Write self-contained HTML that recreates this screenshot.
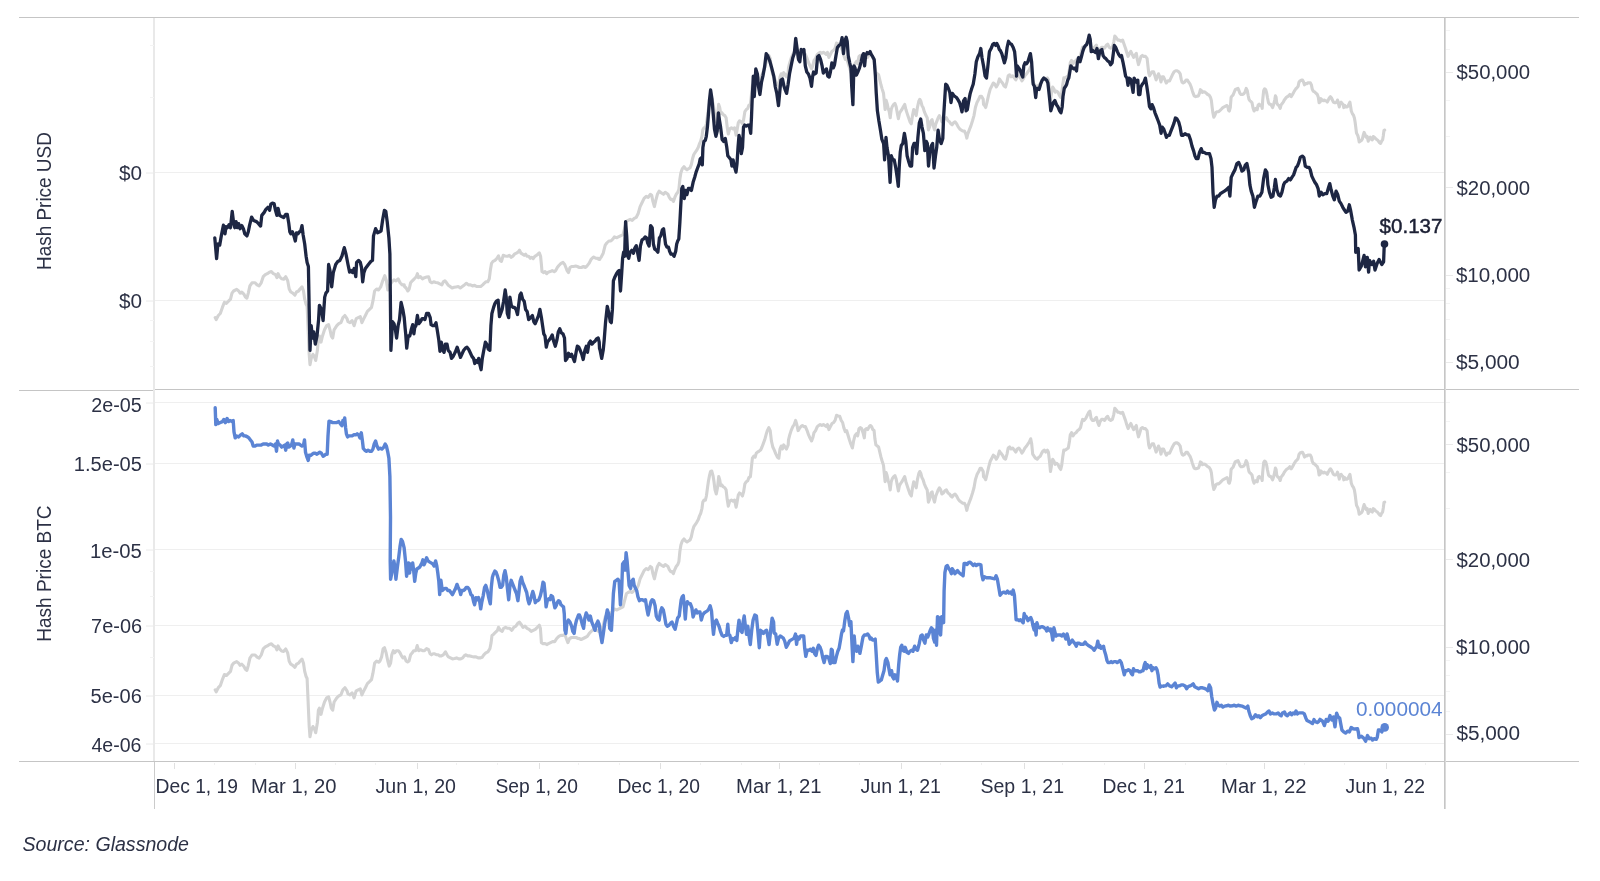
<!DOCTYPE html>
<html><head><meta charset="utf-8"><title>Hash Price USD and BTC</title>
<style>html,body{margin:0;padding:0;background:#fff;width:1600px;height:881px;overflow:hidden}svg{display:block;will-change:transform}</style>
</head><body>
<svg width="1600" height="881" viewBox="0 0 1600 881" font-family="Liberation Sans, Arial, sans-serif"><line x1="155" y1="172.5" x2="1445" y2="172.5" stroke="#efefef" stroke-width="1"/>
<line x1="155" y1="300.5" x2="1445" y2="300.5" stroke="#efefef" stroke-width="1"/>
<line x1="155" y1="402.5" x2="1445" y2="402.5" stroke="#efefef" stroke-width="1"/>
<line x1="155" y1="463.5" x2="1445" y2="463.5" stroke="#efefef" stroke-width="1"/>
<line x1="155" y1="549.5" x2="1445" y2="549.5" stroke="#efefef" stroke-width="1"/>
<line x1="155" y1="625.5" x2="1445" y2="625.5" stroke="#efefef" stroke-width="1"/>
<line x1="155" y1="695.5" x2="1445" y2="695.5" stroke="#efefef" stroke-width="1"/>
<line x1="155" y1="743.5" x2="1445" y2="743.5" stroke="#efefef" stroke-width="1"/>
<line x1="19" y1="17.5" x2="1579" y2="17.5" stroke="#c5c5c5" stroke-width="1"/>
<line x1="19" y1="390.5" x2="153" y2="390.5" stroke="#c5c5c5" stroke-width="1"/>
<line x1="153" y1="389.5" x2="1579" y2="389.5" stroke="#c5c5c5" stroke-width="1"/>
<line x1="19" y1="761.5" x2="1579" y2="761.5" stroke="#c5c5c5" stroke-width="1"/>
<line x1="154" y1="18" x2="154" y2="761" stroke="#e9e9e9" stroke-width="2"/>
<line x1="154.5" y1="762" x2="154.5" y2="809" stroke="#cbcbcb" stroke-width="1"/>
<line x1="1444.5" y1="18" x2="1444.5" y2="809" stroke="#c6c6c6" stroke-width="1"/>
<line x1="1445.5" y1="18" x2="1445.5" y2="809" stroke="#dadada" stroke-width="1"/>
<line x1="174.5" y1="763" x2="174.5" y2="769" stroke="#e0e0e0" stroke-width="1"/>
<line x1="214.5" y1="763" x2="214.5" y2="765" stroke="#f0f0f0" stroke-width="1"/>
<line x1="255.5" y1="763" x2="255.5" y2="765" stroke="#f0f0f0" stroke-width="1"/>
<line x1="295.5" y1="763" x2="295.5" y2="769" stroke="#e0e0e0" stroke-width="1"/>
<line x1="335.5" y1="763" x2="335.5" y2="765" stroke="#f0f0f0" stroke-width="1"/>
<line x1="375.5" y1="763" x2="375.5" y2="765" stroke="#f0f0f0" stroke-width="1"/>
<line x1="417.5" y1="763" x2="417.5" y2="769" stroke="#e0e0e0" stroke-width="1"/>
<line x1="456.5" y1="763" x2="456.5" y2="765" stroke="#f0f0f0" stroke-width="1"/>
<line x1="497.5" y1="763" x2="497.5" y2="765" stroke="#f0f0f0" stroke-width="1"/>
<line x1="539.5" y1="763" x2="539.5" y2="769" stroke="#e0e0e0" stroke-width="1"/>
<line x1="578.5" y1="763" x2="578.5" y2="765" stroke="#f0f0f0" stroke-width="1"/>
<line x1="619.5" y1="763" x2="619.5" y2="765" stroke="#f0f0f0" stroke-width="1"/>
<line x1="660.5" y1="763" x2="660.5" y2="769" stroke="#e0e0e0" stroke-width="1"/>
<line x1="700.5" y1="763" x2="700.5" y2="765" stroke="#f0f0f0" stroke-width="1"/>
<line x1="741.5" y1="763" x2="741.5" y2="765" stroke="#f0f0f0" stroke-width="1"/>
<line x1="779.5" y1="763" x2="779.5" y2="769" stroke="#e0e0e0" stroke-width="1"/>
<line x1="819.5" y1="763" x2="819.5" y2="765" stroke="#f0f0f0" stroke-width="1"/>
<line x1="859.5" y1="763" x2="859.5" y2="765" stroke="#f0f0f0" stroke-width="1"/>
<line x1="901.5" y1="763" x2="901.5" y2="769" stroke="#e0e0e0" stroke-width="1"/>
<line x1="940.5" y1="763" x2="940.5" y2="765" stroke="#f0f0f0" stroke-width="1"/>
<line x1="981.5" y1="763" x2="981.5" y2="765" stroke="#f0f0f0" stroke-width="1"/>
<line x1="1024.5" y1="763" x2="1024.5" y2="769" stroke="#e0e0e0" stroke-width="1"/>
<line x1="1062.5" y1="763" x2="1062.5" y2="765" stroke="#f0f0f0" stroke-width="1"/>
<line x1="1104.5" y1="763" x2="1104.5" y2="765" stroke="#f0f0f0" stroke-width="1"/>
<line x1="1144.5" y1="763" x2="1144.5" y2="769" stroke="#e0e0e0" stroke-width="1"/>
<line x1="1185.5" y1="763" x2="1185.5" y2="765" stroke="#f0f0f0" stroke-width="1"/>
<line x1="1226.5" y1="763" x2="1226.5" y2="765" stroke="#f0f0f0" stroke-width="1"/>
<line x1="1264.5" y1="763" x2="1264.5" y2="769" stroke="#e0e0e0" stroke-width="1"/>
<line x1="1304.5" y1="763" x2="1304.5" y2="765" stroke="#f0f0f0" stroke-width="1"/>
<line x1="1344.5" y1="763" x2="1344.5" y2="765" stroke="#f0f0f0" stroke-width="1"/>
<line x1="1386.5" y1="763" x2="1386.5" y2="769" stroke="#e0e0e0" stroke-width="1"/>
<line x1="1425.5" y1="763" x2="1425.5" y2="765" stroke="#f0f0f0" stroke-width="1"/>
<line x1="146" y1="173.0" x2="154" y2="173.0" stroke="#eaeaea" stroke-width="1"/>
<line x1="146" y1="301.0" x2="154" y2="301.0" stroke="#eaeaea" stroke-width="1"/>
<line x1="146" y1="403.0" x2="154" y2="403.0" stroke="#eaeaea" stroke-width="1"/>
<line x1="146" y1="464.0" x2="154" y2="464.0" stroke="#eaeaea" stroke-width="1"/>
<line x1="146" y1="550.0" x2="154" y2="550.0" stroke="#eaeaea" stroke-width="1"/>
<line x1="146" y1="626.0" x2="154" y2="626.0" stroke="#eaeaea" stroke-width="1"/>
<line x1="146" y1="696.0" x2="154" y2="696.0" stroke="#eaeaea" stroke-width="1"/>
<line x1="146" y1="744.0" x2="154" y2="744.0" stroke="#eaeaea" stroke-width="1"/>
<line x1="150" y1="45.5" x2="154" y2="45.5" stroke="#f4f4f4" stroke-width="1"/>
<line x1="150" y1="97.5" x2="154" y2="97.5" stroke="#f4f4f4" stroke-width="1"/>
<line x1="150" y1="320.5" x2="154" y2="320.5" stroke="#f4f4f4" stroke-width="1"/>
<line x1="150" y1="341.5" x2="154" y2="341.5" stroke="#f4f4f4" stroke-width="1"/>
<line x1="150" y1="366.5" x2="154" y2="366.5" stroke="#f4f4f4" stroke-width="1"/>
<line x1="150" y1="571.5" x2="154" y2="571.5" stroke="#f4f4f4" stroke-width="1"/>
<line x1="150" y1="596.5" x2="154" y2="596.5" stroke="#f4f4f4" stroke-width="1"/>
<line x1="150" y1="657.5" x2="154" y2="657.5" stroke="#f4f4f4" stroke-width="1"/>
<line x1="1446" y1="362.5" x2="1453" y2="362.5" stroke="#eaeaea" stroke-width="1"/>
<line x1="1446" y1="275.5" x2="1453" y2="275.5" stroke="#eaeaea" stroke-width="1"/>
<line x1="1446" y1="187.5" x2="1453" y2="187.5" stroke="#eaeaea" stroke-width="1"/>
<line x1="1446" y1="72.5" x2="1453" y2="72.5" stroke="#eaeaea" stroke-width="1"/>
<line x1="1446" y1="339.5" x2="1450" y2="339.5" stroke="#f4f4f4" stroke-width="1"/>
<line x1="1446" y1="319.5" x2="1450" y2="319.5" stroke="#f4f4f4" stroke-width="1"/>
<line x1="1446" y1="303.5" x2="1450" y2="303.5" stroke="#f4f4f4" stroke-width="1"/>
<line x1="1446" y1="288.5" x2="1450" y2="288.5" stroke="#f4f4f4" stroke-width="1"/>
<line x1="1446" y1="136.5" x2="1450" y2="136.5" stroke="#f4f4f4" stroke-width="1"/>
<line x1="1446" y1="100.5" x2="1450" y2="100.5" stroke="#f4f4f4" stroke-width="1"/>
<line x1="1446" y1="49.5" x2="1450" y2="49.5" stroke="#f4f4f4" stroke-width="1"/>
<line x1="1446" y1="30.5" x2="1450" y2="30.5" stroke="#f4f4f4" stroke-width="1"/>
<line x1="1446" y1="734.5" x2="1453" y2="734.5" stroke="#eaeaea" stroke-width="1"/>
<line x1="1446" y1="647.5" x2="1453" y2="647.5" stroke="#eaeaea" stroke-width="1"/>
<line x1="1446" y1="559.5" x2="1453" y2="559.5" stroke="#eaeaea" stroke-width="1"/>
<line x1="1446" y1="444.5" x2="1453" y2="444.5" stroke="#eaeaea" stroke-width="1"/>
<line x1="1446" y1="711.5" x2="1450" y2="711.5" stroke="#f4f4f4" stroke-width="1"/>
<line x1="1446" y1="691.5" x2="1450" y2="691.5" stroke="#f4f4f4" stroke-width="1"/>
<line x1="1446" y1="675.5" x2="1450" y2="675.5" stroke="#f4f4f4" stroke-width="1"/>
<line x1="1446" y1="660.5" x2="1450" y2="660.5" stroke="#f4f4f4" stroke-width="1"/>
<line x1="1446" y1="508.5" x2="1450" y2="508.5" stroke="#f4f4f4" stroke-width="1"/>
<line x1="1446" y1="472.5" x2="1450" y2="472.5" stroke="#f4f4f4" stroke-width="1"/>
<line x1="1446" y1="421.5" x2="1450" y2="421.5" stroke="#f4f4f4" stroke-width="1"/>
<line x1="1446" y1="402.5" x2="1450" y2="402.5" stroke="#f4f4f4" stroke-width="1"/>
<polyline points="215.2,317.6 216.2,319.6 218.3,315.5 220.3,313.5 222.4,307.4 224.4,302.3 226.5,303.3 228.5,301.2 230.5,299.2 232,293.1 233.6,291 236.7,289.4 238.7,291 240.1,293.1 241.8,292 243.8,294.1 245.4,297.1 246.9,298.2 248.3,293.1 249.9,285.9 252,282.8 255.1,282.8 257.1,284.9 259.1,285.9 261.2,282.8 263.2,276.7 265.3,274.7 267.3,273.7 269.4,272.2 271.4,271.6 273.4,273.7 275.5,274.7 276.9,277.7 278.1,273.7 279.6,276.7 281.6,278.8 283.7,279.2 285.7,276.7 287.7,280.8 289.2,289 290.8,292 292.8,293.1 294.9,295.1 296.5,292 298.6,291 300,289 302,286.9 303.5,291 304.7,299.2 306.1,304.3 307.1,306.3 309.2,354.3 310,364.6 311.2,358.4 312.9,354.3 314.3,356.4 315.7,360.5 317.4,350.3 318.4,338 319.4,336 321,342.1 322.5,336 324.5,329.8 326.6,325.7 328.6,324.7 330,329.8 331.3,336 332.7,338 334.1,329.8 336.8,325.7 338.8,323.7 340.9,322.7 342.9,317.6 344.9,315.5 347,318.6 348,321.7 350,322.7 352.1,320.6 354.1,325.7 356.2,318.6 358.2,317.6 360.3,316.6 361.9,322.7 363.3,319.6 365.4,315.5 367.4,311.4 369.5,309.4 371.5,307.4 372.9,301.2 374.6,291 376.6,289 378.6,290 380.7,286.9 382.7,280.8 384.8,275.7 386.4,280.8 387.8,290 389.9,284.9 391.9,281.8 394,279.8 396,280.8 398.1,278.8 400.1,282.8 402.1,284.9 404.2,284.9 404.5,286.5 406.1,288 407.8,291 409.2,289 410.6,282.8 412.3,280.8 414.3,278.8 416.3,276.7 417.4,273.7 418.4,277.7 420.4,276.7 422.5,278.8 424.5,277.7 426.6,277.1 428.6,276.7 430.2,281.8 431.7,282.8 433.7,281.8 435.8,282.4 437.8,282.8 439.8,283.9 441.9,284.9 443.3,281.8 444.9,280.8 446.6,282.8 448,284.9 450.1,286.5 452.1,288 454.1,287.3 456.2,286.9 458.2,286.5 460.3,288 462.3,286.5 464.4,284.9 466.4,283.3 468.4,284.9 470.5,284.9 472.5,285.9 474.6,285.3 476.6,286.5 478.7,286.5 480.7,286.5 482.7,284.9 484.2,283.3 485.8,281.8 487.8,281.8 489.3,278.8 490.3,270.6 491.5,263.4 493,261.4 495,260.4 497,258.3 498.5,255.9 500.1,260.4 501.5,261.4 503.2,255.3 505.2,255.9 507.3,256.3 509.3,255.3 511.3,257.3 512.8,256.3 514.4,254.2 516.4,253.2 518.1,252.2 519.5,250.2 520.9,253.2 522.6,254.2 524.2,255.3 525.6,254.2 527.1,256.3 528.7,256.3 530.3,258.3 531.8,257.3 533.2,258.7 534.8,256.3 536.5,255.3 537.9,254.2 539.3,252.8 540.6,256.3 541.4,264.5 542,271.6 543.4,272.6 545,271.6 546.7,273.7 548.1,272.2 550.2,271.6 552.2,270.6 554.2,271.6 555.7,270.6 557.3,267.5 558.9,265.5 561,263.4 563,262.4 564.7,264.5 565.9,267.5 567.1,270.6 568.5,272.6 570,267.5 571.6,266.5 573.6,266.5 575.7,266.1 577.3,266.5 579.4,267.5 581.4,267.5 583.5,266.5 585.5,267.5 586.9,266.1 589,263.4 591.3,259.1 593.4,257.1 594.1,257.3 596.1,258.3 598.2,258.3 599.8,259.4 597,258.3 599.1,259.4 601.1,257.3 603.2,253.2 605.2,245.1 606.8,243 608.9,241 610.9,241 613,238.9 614.4,236.9 616.9,237.7 618.9,236.7 621,235.6 623,234.6 625.1,226.5 626.5,221.3 628.1,220.3 630.2,219.3 632.2,220.3 634.2,218.3 636.3,217.3 638.3,213.2 640.1,206.6 642.1,202.5 644.1,198.4 646.2,196.3 648.2,197.4 650.3,194.3 651.7,195.3 652.9,201.4 654.4,206.6 655.8,200.4 657.4,194.3 659.1,191.2 660.5,192.3 661.9,193.3 663.5,194.3 665.2,192.3 666.6,193.3 668,194.3 669.3,197.4 670.7,199.4 672.1,199.4 673.4,201.4 674.8,197.4 676.2,194.3 677.8,192.3 678.9,189.2 679.9,179 680.9,172.8 682.3,168.8 684,166.7 685.6,168.8 687,169.8 688.5,168.8 690.1,167.7 691.3,164.7 692.6,158.5 693.8,154.5 695.2,152.4 696.6,150.4 698.3,147.3 699.3,144.2 700.7,141.2 702,136.1 702.8,129.9 704,127.9 705.4,127.9 706.4,123.8 707.5,115.6 708.5,108.5 709.5,103.4 710.5,99.3 711.8,98.9 713,103.4 714,109.5 715,117.7 716.3,121.8 717.5,115.6 718.7,104.4 719.7,107.5 720.7,113.6 721.8,112.6 723.2,114.6 724.8,115.6 726.1,117.7 727.3,127.9 728.3,134 729.7,128.9 731.4,127.9 733,128.9 734.6,127.9 736.1,135.1 737.1,129.9 738.3,122.8 739.5,120.8 741.2,121.8 742.4,123.8 743.6,119.7 744.9,111.6 746.3,109.5 747.7,108.5 748.9,105.4 750.4,104.4 751.4,95.2 752.4,86 753.8,84 755.1,85 756.3,80.9 757.5,79.9 759.2,78.9 760.6,77.9 762,74.8 763.2,71.7 764.7,67.6 766.1,62.5 767.3,58.4 768.8,55.4 770.2,58.4 771.4,68.7 772.8,74.8 774.3,77.9 775.9,81.9 777.5,85 778.8,86 780,76.8 781.2,73.8 782.4,76.8 783.7,72.7 785.1,74.8 786.5,76.8 788.2,72.7 788.5,67.6 789.5,63.6 791.1,58.4 792.8,54.4 794.2,52.3 795.6,48.2 796.8,52.3 798.1,58.4 799.3,56.4 800.9,54.4 802.4,53.3 803.8,54.4 805.4,54.4 807.1,58.4 808.5,62.5 809.9,65.6 811.6,68.7 812.8,65.6 814,60.5 815.6,58.4 817.3,54.4 818.7,53.3 820.1,52.3 821.8,53.3 823.4,52.3 824.8,53.3 826.3,54.4 827.5,52.3 828.9,57.4 830.4,54.4 832,51.3 833.6,50.3 835.1,48.2 836.5,43.1 838.1,43.7 839.7,44.1 841.2,48.2 842.6,50.3 843.8,55.4 845.3,59.5 846.7,58.4 847.9,62.5 849.4,67.6 850.8,71.7 852.4,75.8 853.6,68.7 854.9,63.6 856.5,61.5 857.7,63.6 859,56.4 860.2,55.4 861.6,56.4 863,60.5 864.3,65.6 865.1,57.4 866.3,56.4 867.7,57.4 869.2,54.4 870.4,53.3 871.6,54.4 872.8,57.4 874.1,58.4 874.9,66.6 875.9,72.7 877.3,73.8 878.6,74.8 879.8,79.9 881,85 882.2,89.1 883.5,93.2 884.3,101.3 885.1,109.5 886.1,100.3 887.1,103.4 888.2,108.5 889.2,111.6 890.2,117.7 891.2,109.5 892.3,106.5 893.7,104.4 894.9,103.4 896.1,106.5 897.4,113.6 898.4,118.7 899.4,113.6 900.4,111.6 901.9,109.5 903.5,106.5 904.7,104.4 905.9,109.5 907.2,113.6 908.6,117.7 910,121.8 911.3,123.8 912.5,115.6 913.7,109.5 914.9,111.6 916.2,115.6 917.4,107.5 918.8,101.3 919.8,99.3 920.9,101.3 921.9,105.4 923.1,107.5 924.3,111.6 926,115.6 927.2,117.7 928.4,129.9 929.6,126.9 930.9,120.8 932.1,119.7 933.3,125.9 934.5,129.9 935.8,123.8 937,120.8 938.2,117.7 939.4,115.6 940.7,117.7 941.9,121.8 943.3,120.8 944.8,118.7 946.4,117.7 948,120.8 949.5,121.8 950.9,123.8 952.1,124.8 953.5,122.8 955,121.8 956.6,123.8 958.2,126.9 959.7,128.9 961.1,129.9 962.7,131 964.4,131 965.8,134 966.8,138.1 967.8,134 969.3,129.9 970.9,125.9 972.5,120.8 974,115.6 975.4,107.5 977,102.4 978.7,99.3 980.1,96.2 981.5,96.2 983.2,99.3 983.5,104.4 984.5,105.4 985.7,107.5 987.2,101.3 988.6,95.2 990.2,89.1 991.8,86 993.3,83 994.7,84 996.3,87 998,84 999.4,78.9 1000.8,80.9 1002.5,83 1004.1,86 1005.5,87 1007,81.9 1008.2,75.8 1009.6,74.8 1011.1,76.8 1012.7,75.8 1014.3,77.9 1015.8,79.9 1017.2,76.8 1018.8,75.8 1020.4,77.9 1021.9,80.9 1023.3,78.9 1024.9,75.8 1026.6,73.8 1028,71.7 1029.4,69.7 1030.7,66.6 1031.7,71.7 1032.7,81.9 1034.1,84 1035.6,86 1037.2,87 1038.8,85 1040.3,84 1041.7,80.9 1042.9,78.9 1044.4,77.9 1045.8,79.9 1047.4,77.9 1048.4,79.9 1049.5,89.1 1050.5,99.3 1051.5,93.2 1052.7,87 1054,89.1 1055.2,92.2 1056.6,91.1 1058,92.2 1059.3,95.2 1060.7,97.3 1061.7,93.2 1062.7,85 1063.8,77.9 1065.4,77.9 1066.8,76.8 1068.3,75.8 1069.5,68.7 1070.3,62.5 1071.5,60.5 1073,63.6 1074.4,61.5 1076,60.5 1077.7,58.4 1079.1,57.4 1080.5,55.4 1081.7,50.3 1082.6,47.2 1084.2,48.2 1085.8,46.2 1087.3,43.1 1088.7,40.1 1089.9,39 1091.1,46.2 1092.4,48.2 1094,48.2 1095.4,46.2 1096.4,45.2 1097.7,50.3 1098.9,53.3 1100.1,49.3 1101.6,47.2 1103,47.2 1104.6,48.2 1106.3,45.2 1107.7,44.1 1109.1,47.2 1110.7,48.2 1112.4,47.2 1113.8,42.1 1114.8,36 1116.5,38 1117.9,40.1 1119.3,40.1 1121,41.1 1122.6,40.1 1124,44.1 1125.5,48.2 1126.7,52.3 1128.1,56.4 1129.5,53.3 1130.8,51.3 1132.2,54.4 1133.6,57.4 1134.9,55.4 1136.3,53.3 1137.3,59.5 1138.5,64.6 1139.8,60.5 1141,56.4 1142.4,55.4 1143.8,56.4 1145.5,56.4 1147.1,58.4 1147.9,65.6 1148.7,72.7 1149.6,75.8 1150.8,73.8 1152,71.7 1153.6,71.7 1154.9,75.8 1156.1,79.9 1157.3,76.8 1158.5,73.8 1159.8,76.8 1161,81.9 1162.2,76.8 1163.5,76.8 1164.9,79.9 1166.3,83 1167.9,80.9 1169.6,80.9 1171,77.9 1172.4,74.8 1174.1,71.7 1175.7,70.7 1177.1,70.7 1178.6,71.7 1179,72.1 1180.2,73.9 1181.2,79.4 1182.1,82.2 1183.2,82.9 1184.6,82.2 1186,80.1 1187.4,80.1 1188.7,82.2 1190.1,84.2 1191.2,87 1192.2,90.4 1193.1,93.2 1194.2,95.9 1195.6,96.6 1197,96.2 1198.4,95.9 1199.5,93.2 1200.4,89.7 1201.4,90.4 1202.5,92.5 1203.6,91.8 1205,92.1 1206.3,93.2 1207.7,94.5 1209.1,95.2 1210.5,97.3 1211.4,100.7 1212.1,106.9 1212.8,112.4 1213.8,117.2 1214.9,115.2 1216,112.4 1217.3,111.7 1218.7,111.7 1220.1,110.4 1221.5,109 1222.8,107.6 1224.2,106.9 1225.6,106.2 1227,105.5 1227.9,106.9 1228.6,110.4 1229.3,111 1230.3,107.6 1231.1,97.3 1232.1,95.9 1233,95.2 1234.1,92.5 1235.2,89.7 1236.6,89 1238,88.4 1238.9,90.4 1239.9,93.2 1241,94.5 1242.4,94.5 1243.7,93.9 1245.1,91.8 1246.2,88.4 1247.2,90.4 1248.1,95.2 1249,99.4 1249.9,100.7 1250.9,101.4 1252,102.8 1253.1,108.3 1254.1,111 1255,109 1256.1,108.3 1257.2,109.7 1258.2,104.9 1259.1,104.2 1260.2,105.5 1261.3,104.9 1262.2,108.3 1262.7,100 1263.7,90.4 1264.6,88.8 1265.7,89.7 1266.7,93.2 1267.4,97.3 1268.5,102.8 1269.6,104.2 1270.6,104.2 1271.5,105.5 1272.6,107.6 1273.7,104.2 1274.7,100 1275.4,95.9 1276.1,97.3 1276.7,102.8 1277.8,104.9 1278.9,105.5 1280.2,108.3 1281.1,104.9 1282.2,103.5 1283.3,102.1 1284.3,100 1285.3,98.7 1286.4,97.3 1287.5,96.6 1288.6,95.9 1289.8,94.5 1291.2,96.6 1292.1,95.2 1293.2,93.2 1294.3,91.1 1295.7,89 1297.1,87.7 1298.1,86.3 1299,82.2 1300.1,80.8 1301.5,80.1 1302.6,80.1 1303.6,82.2 1304.5,84.9 1305.6,83.5 1306.7,83.8 1307.7,82.9 1309.1,82.9 1310.4,82.9 1311.4,84.9 1312.2,89 1313.2,91.1 1314.6,91.8 1315.9,93.2 1317.3,94.5 1318.3,97.3 1319.1,102.8 1320.1,102.1 1321,98.7 1322.1,100 1323.2,100.7 1324.2,100 1325.1,100.7 1326.2,100.7 1327.3,102.1 1328.3,100 1329.3,98 1330.4,96.6 1331.5,98 1332.4,100 1333.4,102.1 1334.5,102.8 1335.6,102.8 1336.6,102.1 1337.5,100 1338.3,102.8 1339.3,106.9 1340,103.5 1341.1,102.1 1342.1,103.5 1343,104.2 1343.8,107.6 1344.8,105.5 1345.8,106.9 1346.9,106.9 1348,106.2 1348.9,104.2 1349.9,102.1 1350.7,106.9 1351.3,111 1352.4,113.8 1353.5,115.2 1354.4,117.9 1355.1,122 1355.8,127.5 1356.5,133 1357.2,134.4 1357.9,135.8 1358.6,138.5 1359.2,142 1360.3,141.3 1361.3,140.6 1362.3,139.2 1363.1,135.8 1364.1,132.4 1365,134.4 1366.1,137.2 1367.2,136.5 1368.2,141.3 1369.1,138.5 1370.2,137.2 1371.3,139.2 1372.3,139.9 1373.3,136.5 1374.4,137.2 1375.5,138.5 1376.4,139.2 1377.4,139.9 1378.5,141.3 1379.6,142.7 1380.6,143.4 1381.5,141.3 1382.6,139.9 1383.3,135.8 1384,130.3 1384.7,130" fill="none" stroke="#d3d3d3" stroke-width="3.1" stroke-linejoin="round" stroke-linecap="round"/>
<polyline points="214.8,237.9 216.6,258.7 217.9,244 219.7,245.1 221.3,235.9 223.4,225.2 225,233.8 226,226.7 227.5,227.7 229.1,224.6 230.5,227.7 232.2,211.3 233.6,222.6 234.8,227.7 236.1,221.6 237.3,227.7 238.7,223.6 240.1,228.7 241.8,225.6 243.4,228.7 244.8,233.8 246.9,235.9 248.3,231.8 249.5,225.6 251.6,217.1 253.6,220.5 256.5,221.6 258.5,223.6 260.6,226.1 261.8,215.4 264.2,212.4 265.9,209.3 267.9,207.3 269.6,210.3 270.8,204.2 272.4,203.2 274.1,203.6 275.5,210.3 276.9,215.4 278.1,208.3 279.6,215.4 281.6,216.5 283.7,217.5 285.7,214.4 287.3,214.4 288.8,223.6 289.8,231.8 290.8,233.8 292.4,231.8 293.9,235.9 295.3,241 296.5,232.8 298,233.8 299.4,231.8 300.6,231.4 302,225.6 303.1,234.8 304.7,244 306.1,256.3 307.1,262.4 308.4,266.5 309.2,309.4 310,350.3 311.2,325.7 312.5,338 313.7,331.9 315.3,344.1 317,336 318.6,319.6 319.4,305.3 321.4,309.4 323.1,320.6 324.7,297.1 325.9,293.1 327.6,291 328.6,264.5 330,270.6 331.7,286.9 333.3,272.6 335.7,264.5 337.8,261.4 339.8,260.4 341.9,256.3 344.3,247.7 346,254.2 348,264.5 349.6,272.2 351.1,270.6 352.5,272.6 354.1,268.5 355.8,276.7 356.6,262.4 358.6,260.4 360.3,262.4 361.5,267.5 362.7,281.8 363.9,272.6 365.4,268.5 368.4,264.5 370.9,261.4 372.5,260.4 373.5,235.9 375.6,228.7 377.6,232.8 379.7,231.8 381.1,230.8 382.7,219.5 384.4,210.3 385.8,211.3 387.2,221.6 388.9,237.9 389.9,254.2 390.9,350.3 392.5,321.7 394,323.7 395.4,329.8 396.6,338 398.1,325.7 399.5,319.6 401.1,302.3 402.8,309.4 404.2,317.6 405.1,327.8 405.7,333.9 406.7,348.2 408.2,336 409.8,336 411.2,329.8 412.7,324.7 413.9,333.9 414.7,327.8 415.9,325.7 417.4,315.5 418.8,323.7 420.4,321.7 422.1,318.6 423.5,318.6 424.9,319.6 426.6,313.5 428.6,313.5 430.2,317.6 431.1,324.7 432.7,325.7 434.3,325.7 436,322.7 437.2,329.8 438.8,340 440,351.3 441.3,342.1 442.9,350.3 444.1,352.3 445.4,344.1 447,344.1 448.2,350.3 450.1,352.3 451.5,358.4 453.1,356.4 455.2,352.3 457.2,347.2 458.8,352.3 460.5,357.4 462.3,353.3 463.7,350.3 465.4,348.2 467,347.2 468.6,349.2 470.5,353.3 471.9,356.4 473.5,358.4 474.8,363.5 476,360.5 477.6,362.5 478.7,358.4 480.1,365.6 481.1,369.7 482.3,358.4 483.8,350.3 485.4,342.1 486.8,344.1 488.3,349.2 489.9,350.3 490.9,325.7 491.9,313.5 493.6,307.4 495,303.3 496.4,301.2 498.1,300.2 499.5,316.6 500.7,313.5 502.1,309.4 503.6,301.2 505.2,290 506.2,297.1 507.3,313.5 508.7,317.6 509.9,297.1 511.3,305.3 512.8,307.4 514.4,307.4 516,309.4 517.5,314.5 518.5,306.3 519.9,295.1 521.1,293.1 522.6,299.2 524.2,301.2 525.6,309.4 527.1,311.4 528.7,319.6 530.7,317.6 532.4,315.5 533.8,321.7 535.2,323.7 536.9,319.6 538.5,315.5 539.9,309.4 541.4,317.6 542.6,325.7 543.8,333.9 545,336 546.3,347.2 547.5,342.1 549.1,340 550.6,338 552.2,334.9 553.6,341.1 555.3,346.2 556.9,340 558.3,331.9 559.8,328.8 561.4,332.9 563,333.9 564.5,338 565.5,360.5 567.1,358.4 568.5,353.3 570,356.4 571.6,354.3 573.2,358.4 574.5,361.5 576.1,352.3 577.3,346.2 578.8,347.2 580.2,350.3 581.8,354.3 583.2,359.5 584.9,350.3 586.3,346.2 587.5,352.3 589,343.1 590.4,341.1 592,344.1 593.7,342.1 595.1,341.1 596.5,339 598.2,338 599.2,342.1 599.5,348.2 600.1,350.3 601.7,358.4 603.2,350.3 604.2,340 605.6,321.7 607.3,306.3 608.9,313.5 610.3,321.7 611.3,322.7 612.4,309.4 613.4,280.8 615,276.7 616.5,273.7 617.9,271.6 619.1,270.6 620.5,291 621.6,274.7 622.6,258.3 623.6,252.2 624.6,256.3 625.6,221.6 626.7,235.9 627.7,256.3 628.7,258.3 630.1,252.2 631.8,250.2 633.4,253.2 634.8,248.1 636.3,245.7 637.9,254.2 639.1,260.4 640.4,246.1 642,239.9 643.6,238.9 645.1,236.9 646.5,237.9 647.7,243 649.1,246.1 650.6,225.6 652.2,227.7 653.4,244 654.7,249.1 656.3,250.2 657.9,252.2 659.4,237.9 660.8,235.9 662.4,229.7 663.6,228.7 664.5,235.9 665.5,244 666.9,247.1 668.5,247.1 669.6,251.2 671,254.2 672.6,254.2 674.1,256.3 675.7,251.2 676.7,244 677.7,241 678.8,238.9 679.8,223.6 680.8,204.8 681.8,188.4 682.8,186.4 684.3,198.6 685.5,190.5 686.9,194.6 688.4,188.4 690,188.4 691.4,190.5 693.1,182.3 694.7,177.2 696.1,172.1 697.6,168 699.2,163.9 700.2,158.8 701.2,157.8 702.3,164.9 702.9,147.6 703.9,141.4 705.3,140.4 706.3,136.3 707.4,127.1 708.4,114.9 709.4,100.6 710.6,90 711.9,98.5 713.1,112.8 714.5,129.2 715.9,136.3 717.2,131.2 718.4,112.8 719.6,121 720.6,127.1 722.1,139.4 723.7,141.4 725.3,138.4 726.8,147.6 727.8,155.7 729.4,157.8 730.9,159.8 731.9,166 733.1,159.8 734.3,166 736,172.1 737,163.9 738,147.6 739,135.3 740,139.4 741.3,153.7 742.5,147.6 743.5,127.1 744.7,125.1 746.2,126.1 747.8,125.1 749.2,125.1 750.7,133.3 751.5,116.9 752.3,96.5 753.3,76.1 754.3,96.5 755.8,68.9 757.4,74 758.4,86.3 759.9,94.5 761.5,82.2 762.9,76.1 764.6,66.9 766.2,53.6 767.6,55.6 769.7,60.8 771.7,67.9 773.8,76.1 775.2,86.3 776.8,93.4 778.5,105.7 779.9,90.4 780.9,80.2 782.5,79.1 784,86.3 785.4,90.4 786.6,93.4 788.1,84.2 789.5,74 791.1,65.9 792.8,57.7 794.2,53.6 794.5,51.6 795.7,38.3 797.2,49.5 798.6,59.7 799.8,61.8 801.2,49.5 802.7,50.5 803.9,49.5 805.3,65.9 806.8,72 808.4,74 810,78.1 811.5,86.3 812.5,77.1 813.5,72 814.9,74 816.1,73 817.6,56.7 819,55.6 820.6,59.7 822.1,65.9 823.3,73 824.7,71 826.4,68.9 827.8,76.1 829.2,77.1 830.4,72 831.9,62.8 833.3,67.9 834.5,64.8 836,55.6 837.4,47.5 839,45.4 840.7,44.4 842.1,37.7 843.5,53.6 844.7,41.3 846.2,37.3 847.2,41.3 848.2,55.6 849.7,62.8 850.9,67.9 851.7,86.3 852.9,104.7 853.9,65.9 855,67.9 856.4,75.1 857.8,72 859.5,67.9 861.1,61.8 862.5,55.6 863.5,53.6 864.6,65.9 865.6,55.6 867.2,52.6 868.7,53.6 870.1,51.6 871.3,54.6 872.7,56.7 874.2,59.7 875.4,76.1 876.2,92.4 877.4,110.8 878.9,121 880.3,129.2 881.9,139.4 883.6,143.5 884.6,159.8 886,137.4 887,147.6 888.5,155.7 890.1,182.3 891.3,155.7 892.8,159.8 894.2,159.8 895.8,168 897.3,178.2 898.3,186.4 899.3,166 900.3,151.7 901.3,145.5 902.8,143.5 904.4,133.3 905.8,141.4 907.1,155.7 908.5,160.9 910.1,166 911.6,166 912.6,147.6 914,143.5 915.4,143.5 916.7,153.7 917.9,137.4 919.3,123.1 920.7,119 922,127.1 923.4,133.3 924.8,150.6 926.3,141.4 927.3,143.5 928.5,166 929.9,151.7 931.4,145.5 932.6,143.5 934,168 935.5,155.7 936.7,147.6 938.1,130.2 939.5,139.4 941.2,143.5 942.8,138.4 943.6,116.9 944.9,96.5 945.7,84.2 946.9,85.3 948.3,88.3 949.8,92.4 951,102.6 952.4,93.4 953.8,95.5 955.1,96.5 956.5,97.5 957.9,99.6 959.6,102.6 960.8,106.7 962,111.8 963.6,100.6 965.1,98.5 966.1,110.8 967.3,109.8 968.8,100.6 970.2,93.4 971.8,88.3 973.2,84.2 974.9,74 976.3,61.8 977.9,56.7 979.6,53.6 980.8,48.5 982,57.7 983.7,66.9 985.1,76.1 986.5,78.1 987.8,66.9 989.2,53.6 989.5,51.6 991.1,48.5 992.8,44.4 994.2,43.4 995.6,45.4 996.8,43.4 998.3,46.5 999.3,49.5 1000.3,50.5 1001.8,53.6 1003,57.7 1004.4,62.8 1005.8,57.7 1007.1,47.5 1008.5,41.3 1009.9,43.4 1011.6,44.4 1013.2,47.5 1014.6,51.6 1015.6,61.8 1016.5,76.1 1017.3,65.9 1018.7,67.9 1020.1,69.9 1021.4,74 1022.8,77.1 1023.8,65.9 1025,62.8 1026.5,63.8 1027.9,61.8 1029.1,57.7 1030.4,53.6 1031.6,61.8 1032.4,74 1033.2,84.2 1034.4,86.3 1035.7,97.5 1036.7,88.3 1037.7,88.3 1039.1,89.4 1040.6,84.2 1042.2,80.2 1043.8,78.1 1045.3,79.1 1046.7,80.2 1047.9,83.2 1048.7,90.4 1050,102.6 1050.8,110.8 1052,106.7 1053.4,102.6 1054.9,100.6 1056.5,104.7 1057.9,106.7 1059.6,110.8 1061,112.8 1062.2,106.7 1063,96.5 1064.3,88.3 1065.7,86.3 1066.7,84.2 1067.7,80.2 1068.8,78.1 1069.8,72 1070.8,65.9 1072.4,67.9 1073.9,68.9 1075.3,67.9 1076.5,71 1077.3,62.8 1078.6,57.7 1080,61.8 1081.4,56.7 1082.7,51.6 1084.1,47.5 1085.5,45.4 1086.7,44.4 1087.8,41.3 1089.2,35.2 1090.2,39.3 1091.2,51.6 1092.9,50.5 1094.3,51.6 1095.7,52.6 1097,48.5 1098.4,58.7 1099.4,53.6 1100.4,50.5 1101.9,49.5 1103.1,55.6 1104.5,57.7 1105.9,58.7 1107.6,60.8 1109.2,61.8 1110.6,64.8 1112.1,62.8 1113.3,53.6 1114.3,45.4 1115.7,47.5 1117.4,51.6 1118.8,54.6 1120.2,56.7 1121.5,55.6 1122.9,61.8 1124.3,68.9 1125.6,76.1 1127,78.1 1128,85.3 1129,78.1 1130.5,79.1 1131.7,84.2 1133.1,92.4 1134.1,78.1 1135.2,80.2 1136.6,82.2 1137.8,80.2 1138.6,94.5 1139.9,94.5 1140.7,87.3 1142.3,84.2 1143.9,82.2 1145.4,78.1 1146.8,86.3 1148,94.5 1149.5,106.7 1150.9,108.8 1152.1,104.7 1153.5,107.7 1155,112.8 1156.6,116.9 1158.2,121 1159.7,125.1 1161.1,133.3 1162.3,127.1 1163.8,129.2 1165.2,133.3 1166.4,137.4 1167.8,135.3 1169.3,135.3 1170.9,131.2 1172.5,127.1 1174,123.1 1175.4,118 1177,119 1178.7,122 1180.1,127.1 1181.5,135.3 1183.2,135.3 1183.5,134.9 1185,133.7 1187,134.9 1188.7,134.9 1190.5,139.9 1192,146.1 1193.7,151.1 1195,156.1 1196.2,158.6 1198,158.6 1199.5,152.4 1201.2,148.6 1202.5,152.4 1204.2,152.4 1206.2,153.6 1208,153.6 1209.5,153.6 1211,158.6 1212,167.4 1213,192.3 1214.2,207.3 1215.5,199.8 1217,196.1 1218.7,196.1 1220.4,193.6 1222.4,192.3 1224.4,191.1 1226.2,189.8 1227.4,188.6 1228.7,187.3 1229.9,196.1 1231.2,177.4 1232.9,173.6 1234.9,169.9 1236.9,163.6 1238.7,162.4 1240.4,166.1 1241.9,171.1 1243.7,169.9 1245.4,164.9 1246.9,163.6 1248.7,172.4 1249.9,184.8 1251.2,191.1 1252.9,196.1 1254.4,207.3 1256.2,201.1 1257.9,196.1 1259.9,196.1 1261.9,192.3 1263.6,178.6 1265.4,169.9 1266.9,172.4 1267.9,184.8 1269.4,192.3 1271.1,197.3 1272.9,196.1 1274.4,187.3 1275.4,179.4 1276.9,189.8 1278.6,194.8 1280.4,196.1 1281.9,192.3 1283.6,184.8 1284.9,182.3 1286.9,181.1 1288.6,178.6 1290.4,179.9 1291.9,177.4 1293.6,174.9 1294.9,171.1 1296.1,167.4 1297.4,166.1 1298.9,162.4 1300.3,157.4 1302.3,156.1 1303.8,157.4 1305.3,166.1 1307.3,167.4 1309.1,167.4 1310.3,169.9 1311.8,176.1 1313.6,179.9 1314.8,182.3 1316.6,184.8 1318.1,188.6 1319.3,196.1 1321.1,192.3 1322.8,194.8 1324.8,193.6 1326.8,193.6 1328.6,187.3 1329.8,183.6 1331.1,189.8 1332.8,196.1 1334.3,199.8 1336.1,191.1 1337.8,194.8 1339.3,201.1 1341,203.6 1342.8,207.3 1344.3,209.8 1346,212.3 1347.8,211.1 1349.3,204.8 1350.5,209.8 1352.3,219.8 1354,227.3 1355.4,235 1355.7,252.3 1358.2,248.6 1359.1,270 1361.4,265.9 1364.1,255.4 1365.4,266.8 1367.3,257.3 1368.6,272.2 1369.5,260.4 1371.8,264.5 1373.6,261.3 1375,270 1377.2,263.2 1379.1,259.5 1381.8,264.5 1383.6,261.8 1384.1,248.6 1384.5,244.1" fill="none" stroke="#1d2643" stroke-width="3.3" stroke-linejoin="round" stroke-linecap="round"/>
<polyline points="215.2,689.8 216.2,691.8 218.3,687.7 220.3,685.7 222.4,679.6 224.4,674.5 226.5,675.5 228.5,673.4 230.5,671.4 232,665.3 233.6,663.2 236.7,661.6 238.7,663.2 240.1,665.3 241.8,664.2 243.8,666.3 245.4,669.3 246.9,670.4 248.3,665.3 249.9,658.1 252,655 255.1,655 257.1,657.1 259.1,658.1 261.2,655 263.2,648.9 265.3,646.9 267.3,645.9 269.4,644.4 271.4,643.8 273.4,645.9 275.5,646.9 276.9,649.9 278.1,645.9 279.6,648.9 281.6,651 283.7,651.4 285.7,648.9 287.7,653 289.2,661.2 290.8,664.2 292.8,665.3 294.9,667.3 296.5,664.2 298.6,663.2 300,661.2 302,659.1 303.5,663.2 304.7,671.4 306.1,676.5 307.1,678.5 309.2,726.5 310,736.8 311.2,730.6 312.9,726.5 314.3,728.6 315.7,732.7 317.4,722.5 318.4,710.2 319.4,708.2 321,714.3 322.5,708.2 324.5,702 326.6,697.9 328.6,696.9 330,702 331.3,708.2 332.7,710.2 334.1,702 336.8,697.9 338.8,695.9 340.9,694.9 342.9,689.8 344.9,687.7 347,690.8 348,693.9 350,694.9 352.1,692.8 354.1,697.9 356.2,690.8 358.2,689.8 360.3,688.8 361.9,694.9 363.3,691.8 365.4,687.7 367.4,683.6 369.5,681.6 371.5,679.6 372.9,673.4 374.6,663.2 376.6,661.2 378.6,662.2 380,661 381.6,656.9 383.1,648.7 384.5,647.7 386.1,652.8 387.8,661 389.2,666.1 390.6,663 391.8,654.8 393.3,650.7 394.7,652.8 396.3,650.7 398.4,650.7 400,652.8 401.5,655.9 402.9,657.9 404.5,656.9 406.1,661 407.6,662 409,661 410.6,654.8 412.3,652.8 413.7,650.7 415.8,650.7 417.2,645.6 418.8,650.7 420.4,649.7 422.5,650.7 424.5,650.7 426.6,648.7 428.6,649.7 430.1,653.8 431.5,654.8 433.1,653.8 434.7,653.8 436.8,654.8 438.2,654.8 439.7,655.9 441.3,655.9 443.3,654.8 445.4,651.8 447,654.8 448.4,656.9 450.5,657.9 452.5,658.9 454.6,658.5 456.6,657.9 458.7,658.9 460.7,658.9 462.7,657.9 464.2,655.9 465.8,654.8 467.8,655.9 469.9,655.9 471.9,656.5 474,656.9 476,656.9 478.1,657.9 480.1,657.9 482.1,657.3 483.8,654.8 485.8,652.8 487.9,651.8 489.9,648.7 491.1,642.6 492,635.4 493.4,634.4 495.4,632.4 497.5,630.3 498.5,627.3 500.5,630.3 502.2,631.3 503.6,628.3 505.6,627.3 507.7,628.3 509.7,628.3 511.8,630.3 513.8,627.3 515.9,626.2 517.9,623.2 519.3,622.1 521,624.2 523,627.3 525,626.2 527.1,628.3 529.1,629.3 531.2,631.3 533.2,630.3 535.3,629.3 537.3,627.3 539.3,625.2 540.4,628.3 541.4,642.6 543,643.6 545.1,643.6 547.1,644.6 548.5,643.6 550.6,642.6 552.6,641.6 554.7,641.6 556.7,638.5 558.8,636.4 560.8,635.4 562.8,635.4 564.9,634.4 566.3,638.5 567.9,642.6 569.6,638.5 571.6,637.5 573.7,637.5 576.1,637.5 578.2,638.5 579.1,638.5 581.1,639.5 583.2,638.5 585.2,637.5 587.3,636.4 589.3,633.4 591.3,631.3 593.4,629.3 594.1,629.5 596.1,630.5 598.2,630.5 599.8,631.6 597,630.5 599.1,631.6 601.1,629.5 603.2,625.4 605.2,617.3 606.8,615.2 608.9,613.2 610.9,613.2 613,611.1 614.4,609.1 616.9,609.9 618.9,608.9 621,607.8 623,606.8 625.1,598.7 626.5,593.5 628.1,592.5 630.2,591.5 632.2,592.5 634.2,590.5 636.3,589.5 638.3,585.4 640.1,578.8 642.1,574.7 644.1,570.6 646.2,568.5 648.2,569.6 650.3,566.5 651.7,567.5 652.9,573.6 654.4,578.8 655.8,572.6 657.4,566.5 659.1,563.4 660.5,564.5 661.9,565.5 663.5,566.5 665.2,564.5 666.6,565.5 668,566.5 669.3,569.6 670.7,571.6 672.1,571.6 673.4,573.6 674.8,569.6 676.2,566.5 677.8,564.5 678.9,561.4 679.9,551.2 680.9,545 682.3,541 684,538.9 685.6,541 687,542 688.5,541 690.1,539.9 691.3,536.9 692.6,530.7 693.8,526.7 695.2,524.6 696.6,522.6 698.3,519.5 699.3,516.4 700.7,513.4 702,508.3 702.8,502.1 704,500.1 705.4,500.1 706.4,496 707.5,487.8 708.5,480.7 709.5,475.6 710.5,471.5 711.8,471.1 713,475.6 714,481.7 715,489.9 716.3,494 717.5,487.8 718.7,476.6 719.7,479.7 720.7,485.8 721.8,484.8 723.2,486.8 724.8,487.8 726.1,489.9 727.3,500.1 728.3,506.2 729.7,501.1 731.4,500.1 733,501.1 734.6,500.1 736.1,507.3 737.1,502.1 738.3,495 739.5,493 741.2,494 742.4,496 743.6,491.9 744.9,483.8 746.3,481.7 747.7,480.7 748.9,477.6 750.4,476.6 751.4,467.4 752.4,458.2 753.8,456.2 755.1,457.2 756.3,453.1 757.5,452.1 759.2,451.1 760.6,450.1 762,447 763.2,443.9 764.7,439.8 766.1,434.7 767.3,430.6 768.8,427.6 770.2,430.6 771.4,440.9 772.8,447 774.3,450.1 775.9,454.1 777.5,457.2 778.8,458.2 780,449 781.2,446 782.4,449 783.7,444.9 785.1,447 786.5,449 788.2,444.9 788.5,439.8 789.5,435.8 791.1,430.6 792.8,426.6 794.2,424.5 795.6,420.4 796.8,424.5 798.1,430.6 799.3,428.6 800.9,426.6 802.4,425.5 803.8,426.6 805.4,426.6 807.1,430.6 808.5,434.7 809.9,437.8 811.6,440.9 812.8,437.8 814,432.7 815.6,430.6 817.3,426.6 818.7,425.5 820.1,424.5 821.8,425.5 823.4,424.5 824.8,425.5 826.3,426.6 827.5,424.5 828.9,429.6 830.4,426.6 832,423.5 833.6,422.5 835.1,420.4 836.5,415.3 838.1,415.9 839.7,416.3 841.2,420.4 842.6,422.5 843.8,427.6 845.3,431.7 846.7,430.6 847.9,434.7 849.4,439.8 850.8,443.9 852.4,448 853.6,440.9 854.9,435.8 856.5,433.7 857.7,435.8 859,428.6 860.2,427.6 861.6,428.6 863,432.7 864.3,437.8 865.1,429.6 866.3,428.6 867.7,429.6 869.2,426.6 870.4,425.5 871.6,426.6 872.8,429.6 874.1,430.6 874.9,438.8 875.9,444.9 877.3,446 878.6,447 879.8,452.1 881,457.2 882.2,461.3 883.5,465.4 884.3,473.5 885.1,481.7 886.1,472.5 887.1,475.6 888.2,480.7 889.2,483.8 890.2,489.9 891.2,481.7 892.3,478.7 893.7,476.6 894.9,475.6 896.1,478.7 897.4,485.8 898.4,490.9 899.4,485.8 900.4,483.8 901.9,481.7 903.5,478.7 904.7,476.6 905.9,481.7 907.2,485.8 908.6,489.9 910,494 911.3,496 912.5,487.8 913.7,481.7 914.9,483.8 916.2,487.8 917.4,479.7 918.8,473.5 919.8,471.5 920.9,473.5 921.9,477.6 923.1,479.7 924.3,483.8 926,487.8 927.2,489.9 928.4,502.1 929.6,499.1 930.9,493 932.1,491.9 933.3,498.1 934.5,502.1 935.8,496 937,493 938.2,489.9 939.4,487.8 940.7,489.9 941.9,494 943.3,493 944.8,490.9 946.4,489.9 948,493 949.5,494 950.9,496 952.1,497 953.5,495 955,494 956.6,496 958.2,499.1 959.7,501.1 961.1,502.1 962.7,503.2 964.4,503.2 965.8,506.2 966.8,510.3 967.8,506.2 969.3,502.1 970.9,498.1 972.5,493 974,487.8 975.4,479.7 977,474.6 978.7,471.5 980.1,468.4 981.5,468.4 983.2,471.5 983.5,476.6 984.5,477.6 985.7,479.7 987.2,473.5 988.6,467.4 990.2,461.3 991.8,458.2 993.3,455.2 994.7,456.2 996.3,459.2 998,456.2 999.4,451.1 1000.8,453.1 1002.5,455.2 1004.1,458.2 1005.5,459.2 1007,454.1 1008.2,448 1009.6,447 1011.1,449 1012.7,448 1014.3,450.1 1015.8,452.1 1017.2,449 1018.8,448 1020.4,450.1 1021.9,453.1 1023.3,451.1 1024.9,448 1026.6,446 1028,443.9 1029.4,441.9 1030.7,438.8 1031.7,443.9 1032.7,454.1 1034.1,456.2 1035.6,458.2 1037.2,459.2 1038.8,457.2 1040.3,456.2 1041.7,453.1 1042.9,451.1 1044.4,450.1 1045.8,452.1 1047.4,450.1 1048.4,452.1 1049.5,461.3 1050.5,471.5 1051.5,465.4 1052.7,459.2 1054,461.3 1055.2,464.4 1056.6,463.3 1058,464.4 1059.3,467.4 1060.7,469.5 1061.7,465.4 1062.7,457.2 1063.8,450.1 1065.4,450.1 1066.8,449 1068.3,448 1069.5,440.9 1070.3,434.7 1071.5,432.7 1073,435.8 1074.4,433.7 1076,432.7 1077.7,430.6 1079.1,429.6 1080.5,427.6 1081.7,422.5 1082.6,419.4 1084.2,420.4 1085.8,418.4 1087.3,415.3 1088.7,412.3 1089.9,411.2 1091.1,418.4 1092.4,420.4 1094,420.4 1095.4,418.4 1096.4,417.4 1097.7,422.5 1098.9,425.5 1100.1,421.5 1101.6,419.4 1103,419.4 1104.6,420.4 1106.3,417.4 1107.7,416.3 1109.1,419.4 1110.7,420.4 1112.4,419.4 1113.8,414.3 1114.8,408.2 1116.5,410.2 1117.9,412.3 1119.3,412.3 1121,413.3 1122.6,412.3 1124,416.3 1125.5,420.4 1126.7,424.5 1128.1,428.6 1129.5,425.5 1130.8,423.5 1132.2,426.6 1133.6,429.6 1134.9,427.6 1136.3,425.5 1137.3,431.7 1138.5,436.8 1139.8,432.7 1141,428.6 1142.4,427.6 1143.8,428.6 1145.5,428.6 1147.1,430.6 1147.9,437.8 1148.7,444.9 1149.6,448 1150.8,446 1152,443.9 1153.6,443.9 1154.9,448 1156.1,452.1 1157.3,449 1158.5,446 1159.8,449 1161,454.1 1162.2,449 1163.5,449 1164.9,452.1 1166.3,455.2 1167.9,453.1 1169.6,453.1 1171,450.1 1172.4,447 1174.1,443.9 1175.7,442.9 1177.1,442.9 1178.6,443.9 1179,444.3 1180.2,446.1 1181.2,451.6 1182.1,454.4 1183.2,455.1 1184.6,454.4 1186,452.3 1187.4,452.3 1188.7,454.4 1190.1,456.4 1191.2,459.2 1192.2,462.6 1193.1,465.4 1194.2,468.1 1195.6,468.8 1197,468.4 1198.4,468.1 1199.5,465.4 1200.4,461.9 1201.4,462.6 1202.5,464.7 1203.6,464 1205,464.3 1206.3,465.4 1207.7,466.7 1209.1,467.4 1210.5,469.5 1211.4,472.9 1212.1,479.1 1212.8,484.6 1213.8,489.4 1214.9,487.4 1216,484.6 1217.3,483.9 1218.7,483.9 1220.1,482.6 1221.5,481.2 1222.8,479.8 1224.2,479.1 1225.6,478.4 1227,477.7 1227.9,479.1 1228.6,482.6 1229.3,483.2 1230.3,479.8 1231.1,469.5 1232.1,468.1 1233,467.4 1234.1,464.7 1235.2,461.9 1236.6,461.2 1238,460.6 1238.9,462.6 1239.9,465.4 1241,466.7 1242.4,466.7 1243.7,466.1 1245.1,464 1246.2,460.6 1247.2,462.6 1248.1,467.4 1249,471.6 1249.9,472.9 1250.9,473.6 1252,475 1253.1,480.5 1254.1,483.2 1255,481.2 1256.1,480.5 1257.2,481.9 1258.2,477.1 1259.1,476.4 1260.2,477.7 1261.3,477.1 1262.2,480.5 1262.7,472.2 1263.7,462.6 1264.6,461 1265.7,461.9 1266.7,465.4 1267.4,469.5 1268.5,475 1269.6,476.4 1270.6,476.4 1271.5,477.7 1272.6,479.8 1273.7,476.4 1274.7,472.2 1275.4,468.1 1276.1,469.5 1276.7,475 1277.8,477.1 1278.9,477.7 1280.2,480.5 1281.1,477.1 1282.2,475.7 1283.3,474.3 1284.3,472.2 1285.3,470.9 1286.4,469.5 1287.5,468.8 1288.6,468.1 1289.8,466.7 1291.2,468.8 1292.1,467.4 1293.2,465.4 1294.3,463.3 1295.7,461.2 1297.1,459.9 1298.1,458.5 1299,454.4 1300.1,453 1301.5,452.3 1302.6,452.3 1303.6,454.4 1304.5,457.1 1305.6,455.7 1306.7,456 1307.7,455.1 1309.1,455.1 1310.4,455.1 1311.4,457.1 1312.2,461.2 1313.2,463.3 1314.6,464 1315.9,465.4 1317.3,466.7 1318.3,469.5 1319.1,475 1320.1,474.3 1321,470.9 1322.1,472.2 1323.2,472.9 1324.2,472.2 1325.1,472.9 1326.2,472.9 1327.3,474.3 1328.3,472.2 1329.3,470.2 1330.4,468.8 1331.5,470.2 1332.4,472.2 1333.4,474.3 1334.5,475 1335.6,475 1336.6,474.3 1337.5,472.2 1338.3,475 1339.3,479.1 1340,475.7 1341.1,474.3 1342.1,475.7 1343,476.4 1343.8,479.8 1344.8,477.7 1345.8,479.1 1346.9,479.1 1348,478.4 1348.9,476.4 1349.9,474.3 1350.7,479.1 1351.3,483.2 1352.4,486 1353.5,487.4 1354.4,490.1 1355.1,494.2 1355.8,499.7 1356.5,505.2 1357.2,506.6 1357.9,508 1358.6,510.7 1359.2,514.2 1360.3,513.5 1361.3,512.8 1362.3,511.4 1363.1,508 1364.1,504.6 1365,506.6 1366.1,509.4 1367.2,508.7 1368.2,513.5 1369.1,510.7 1370.2,509.4 1371.3,511.4 1372.3,512.1 1373.3,508.7 1374.4,509.4 1375.5,510.7 1376.4,511.4 1377.4,512.1 1378.5,513.5 1379.6,514.9 1380.6,515.6 1381.5,513.5 1382.6,512.1 1383.3,508 1384,502.5 1384.7,502.2" fill="none" stroke="#d3d3d3" stroke-width="3.1" stroke-linejoin="round" stroke-linecap="round"/>
<polyline points="215.2,407.7 215.8,424.6 216.8,419.5 218.3,423.6 220.3,422.6 222.4,421.6 223.8,419.5 225.4,422.6 227.1,418.5 228.5,421.6 229.9,420.5 232,421.6 233.2,420.5 234,431.8 235.2,437.9 236.7,435.9 238.7,436.9 240.8,434.8 242.2,433.8 243.8,435.9 245.4,435.9 247.5,436.9 248.9,437.9 250.4,439.9 252,442 253.2,446.1 255.1,446.1 257.1,445.1 259.1,445.1 261.2,445.1 263.2,444 265.3,444 266.7,444 268.3,445.1 270.4,444 272.4,445.1 274.5,446.1 275.5,444 276.5,451.2 277.5,441 278.5,444 280.2,445.1 281.6,447.1 283,446.1 284.7,445.1 285.7,450.2 286.7,444 287.7,443 288.8,447.1 290.4,446.1 291.8,444 292.8,439.9 293.9,448.1 294.9,444 296.9,444 299,444 300.6,445.1 302,446.1 303.5,445.1 304.5,439.9 305.5,452.2 306.7,456.3 308.2,460.4 309.2,455.3 310.8,455.3 312.3,454.2 313.7,453.2 315.3,453.2 317,454.2 318.4,453.2 319.8,452.2 321.4,453.2 323.1,456.3 324.5,455.3 325.9,454.2 327.2,454.2 328,435.9 329,421.1 330.6,421.6 332.7,422.6 334.7,422.6 336.8,422.6 338.8,421.6 340.2,423.6 341.9,425.6 342.9,420.5 343.9,423.6 344.7,417.9 345.6,427.7 346.4,433.8 347.6,436.9 349,435.9 350.5,435.9 352.1,435.9 353.7,434.8 355.8,434.8 357.2,433.8 358.6,434.8 359.9,437.9 361.3,432.8 362.3,439.9 363.3,448.5 364.8,450.2 366.4,451.2 368,450.2 369.5,451.2 371.5,451.2 372.9,449.1 374.2,444 375.6,441 377,446.1 378.6,449.1 380.3,448.1 381.9,449.1 383.8,447.1 385.2,444 386.4,446.1 387.8,452.2 388.9,458.3 389.9,476.7 390.5,517.6 390.2,560.9 390.6,579.2 391.8,573.1 392.9,566 393.9,560.9 394.9,567 395.9,579.2 397.4,567 398.8,556.8 400,546.6 401.2,539.4 402.5,541.5 404.1,547.6 405.5,560.9 406.6,576.2 407.6,568 408.6,562.9 409.6,573.1 410.6,563.9 411.7,569 412.7,562.9 413.7,571.1 414.7,581.3 415.8,573.1 416.8,569 418.4,568 419.8,567 420.9,564.9 421.9,562.9 422.9,559.8 423.9,564.9 424.9,562.9 426.6,557.8 428,560.9 429.4,561.9 431.1,562.9 432.7,563.9 434.1,566 435.6,560.9 436.8,566 437.8,573.1 438.8,581.3 439.7,594.6 440.9,580.3 442.3,590.5 443.3,589.5 445,588.4 446.4,588.4 447.8,590.5 449.5,590.5 450.9,592.5 452.5,594.6 454,591.5 455.6,588.4 457,584.4 458.2,587.4 459.7,590.5 460.7,594.6 461.7,590.5 463.4,590.5 464.8,589.5 466.2,587.4 467.8,587.4 469.3,589.5 470.9,594.6 472.3,595.6 473.6,601.7 474.6,604.8 476,597.6 477.4,599.7 478.5,597.6 479.7,601.7 480.7,608.9 481.7,602.7 483.2,595.6 484.6,587.4 485.8,585.4 487.3,590.5 488.7,597.6 490.3,603.8 491.3,587.4 492.4,577.2 493.4,574.1 494.8,571.1 496,572.1 497.5,576.2 498.9,581.3 500.1,587.4 501.3,587.4 502.6,585.4 503.8,575.2 505,570.7 506.3,577.2 507.3,587.4 508.7,599.7 509.9,586.4 511.2,580.3 512.4,583.3 513.6,586.4 514.8,589.5 516.5,593.5 517.9,600.7 518.9,592.5 520.1,581.3 521.4,577.2 522.6,582.3 524,585.4 525.5,589.5 526.7,592.5 527.9,599.7 529.1,603.8 530.2,600.7 531.6,595.6 532.8,591.5 534,595.6 535.3,602.7 536.5,600.7 537.7,600.7 538.9,599.7 540.4,595.6 541.8,589.5 543,582.3 544,583.3 545.1,593.5 546.1,606.8 547.5,599.7 548.7,598.7 550,599.7 551.2,595.6 552.6,596.6 553.6,601.7 554.9,607.8 556.1,605.8 557.3,602.7 558.5,600.7 559.8,601.7 561,604.8 562.2,605.8 563.5,606.8 564.3,614 564.9,630.3 565.9,633.4 566.9,623.2 568.4,620.1 570,622.1 571.6,626.2 572.8,631.3 574.1,633.4 575.1,626.2 576.5,620.1 578.2,616 578.5,615 579.5,615 580.7,618.1 582.2,624.2 583.6,628.3 584.8,618.1 586.2,613 587.7,616 588.9,620.1 590.3,616 591.8,622.1 593.4,626.2 595,630.3 596.5,624.2 597.9,621.1 599.1,624.2 600.5,634.4 602,642.6 603.2,634.4 604.6,624.2 606.1,616 607.3,609.9 608.7,614 609.7,628.3 611.4,630.3 612.4,614 613.4,593.5 614.8,581.3 616.3,580.3 617.9,579.2 619.1,581.3 620.4,604.8 621.6,591.5 622.6,563.9 624,561.9 625.1,570.1 626.1,552.7 627.1,560.9 628.1,573.1 629.1,585.4 630.6,588.4 631.8,581.3 633.2,579.2 634.2,585.4 635.5,588.4 636.7,590.5 637.9,596.6 639.4,600.7 640.8,599.7 642.4,599.7 644.1,600.7 645.5,599.7 646.9,608.9 648.1,615 649.6,607.8 651,601.7 652.2,599.7 653.7,600.7 655.1,605.8 656.3,616 657.7,619.1 659.2,620.1 660.4,611.9 661.8,607.8 663.3,609.9 664.5,616 665.9,624.2 667.3,626.2 669,625.2 670.6,623.2 672,622.1 673.5,626.2 675.1,629.3 676.3,624.2 677.6,618.1 679.2,616 680.2,607.8 681.2,599.7 682.3,596.6 683.3,595.6 684.3,605.8 685.3,619.1 686.3,605.8 687.4,601.7 689,603.8 690.4,603.8 691.9,607.8 693.1,617 694.5,613 695.9,609.9 697.2,613 698.6,611.9 700,611.9 701.3,620.1 702.7,615 704.1,613 705.7,611.9 707.4,610.9 708.8,608.9 710.2,605.8 711.5,610.9 712.7,626.2 713.5,634.4 714.9,622.1 716.4,620.1 717.6,623.2 719,626.2 720.5,631.3 722.1,635.4 723.7,636.4 725.2,635.4 726.6,635.4 727.8,624.2 728.6,634.4 729.9,635.4 731.3,642.6 732.7,638.5 733.9,639.5 735.4,637.5 736.8,640.5 738,628.3 739,620.1 740.5,630.3 742.1,632.4 743.1,622.1 744.2,616 745.4,626.2 746.6,634.4 747.8,626.2 749.1,636.4 750.3,644.6 751.7,630.3 753.1,620.1 754.8,615 756.4,616 757.8,630.3 759.3,647.7 760.5,630.3 761.9,631.3 763.4,633.4 765,631.3 766.6,630.3 768.1,638.5 769.1,644.6 770.7,630.3 772.1,618.1 773.6,622.1 774.1,633 775.7,634 777.2,644.2 778.6,638.1 780.2,636 781.8,637 783.3,638.1 784.7,641.1 786.3,647.3 788,644.2 789.4,641.1 790.8,640.1 792.5,639.1 794.1,638.1 795.5,634 796.6,644.2 797.6,637 799,639.1 800.6,636 802.3,636 803.7,636 804.7,648.3 805.8,656.4 807.2,650.3 808.8,650.3 810.4,649.3 811.9,651.3 813.3,648.3 814.5,653.4 816,655.4 817.4,648.3 818.6,645.2 820.1,647.3 821.5,651.3 822.7,657.5 824.1,662.6 825.6,656.4 827.2,656.4 828.8,658.5 830.3,663.6 831.3,649.3 832.3,650.3 833.3,662.6 835,662.6 836.4,656.4 837.8,651.3 839.1,648.3 840.5,640.1 841.5,634 842.5,629.9 843.5,630.9 844.8,620.7 846,613.5 847.2,611.5 848.7,618.7 849.7,625.8 850.9,621.7 852.1,646.2 852.9,661.6 854.2,636 855.4,650.3 856.8,651.3 857.8,646.2 858.9,648.3 859.9,653.4 861.5,645.2 863,637 864.4,635 866,635 867.7,634 869.1,636 870.1,639.1 871.3,638.1 872.6,640.1 873.8,640.1 875.2,639.1 876.2,654.4 877.3,672.8 878.3,682 879.9,681 881.3,679.9 882.8,674.8 884,670.7 885.4,660.5 886.4,658.5 887.9,662.6 888.9,668.7 890.1,674.8 891.6,670.7 892.6,676.9 893.8,678.9 895,674.8 896.3,675.9 897.5,681 898.7,664.6 899.7,654.4 900.7,647.3 901.8,645.2 902.8,650.3 904,651.3 905.2,647.3 906.9,652.4 908.5,653.4 909.9,651.3 911.4,650.3 913,651.3 914.6,646.2 916.1,649.3 917.5,650.3 919.1,644.2 920.8,636 922.2,635 923.6,640.1 924.9,643.2 926.3,635 927.7,637 928.9,634 930.4,629.9 931.4,627.8 932.4,628.9 933.4,638.1 934.7,642.1 935.5,629.9 936.5,645.2 937.5,616.6 938.7,617.6 939.6,631.9 940.6,635 941.6,616.6 942.6,617.6 943.6,622.7 944.1,591.1 944.9,572.7 946.1,566.6 947.3,565.5 948.8,568.6 950.2,570.6 951.4,573.7 952.2,568.6 953.5,570.6 954.9,573.7 956.3,571.7 957.5,570.6 959,572.7 960.4,573.7 962,574.7 963.1,575.8 964.1,563.5 965.7,563.5 967.1,564.5 968.6,562.5 969.1,562.5 970.1,562.1 971.5,563.5 973.2,565.5 974.8,564.1 976.2,565.5 977.7,564.5 979.3,564.5 980.9,564.9 981.8,574.7 983,579.8 984.4,576.8 986.5,577.8 988.5,577.8 990.5,577.8 992.6,578.4 994.6,578.8 996.1,575.8 997.3,578.8 998.7,587 1000.1,595.2 1001.8,593.1 1003.8,592.1 1005.9,593.1 1007.5,591.1 1008.9,593.1 1010.4,592.1 1012,594.1 1013.2,590.1 1014.4,595.2 1015.3,607.4 1016.1,619.7 1017.7,619.7 1019.1,620.7 1020.6,619.7 1022.2,621.7 1023.2,622.7 1024.2,613.5 1025.3,617.6 1026.3,616.6 1027.9,620.7 1029.4,618.7 1030.8,617.6 1032,620.7 1033,625.8 1034.1,629.9 1034.9,624.8 1036.1,635 1036.9,622.7 1038.1,626.8 1039.6,627.8 1041,626.8 1042.6,626.8 1044.3,627.8 1045.7,628.9 1046.7,630.9 1047.7,627.8 1048.8,629.9 1049.8,630.9 1050.8,628.9 1051.8,634 1052.8,640.1 1053.9,627.8 1054.9,631.9 1055.9,636 1057.3,635 1059,635 1060.6,635 1062,636 1063.5,634 1064.7,636 1065.9,639.1 1067.1,634 1068.2,638.1 1069.2,644.2 1070.8,642.1 1072.3,640.1 1073.7,642.1 1075.3,644.2 1076.3,646.2 1077.4,643.2 1079,643.2 1080.4,644.2 1081.9,644.2 1083.5,644.2 1085.1,642.1 1086.6,644.2 1088,645.2 1089.6,646.2 1091.3,647.3 1092.7,648.3 1094.1,650.3 1095.3,648.3 1096.8,646.2 1097.8,641.1 1098.8,647.3 1099.8,645.2 1100.9,648.3 1102.3,647.3 1103.5,646.2 1104.3,650.3 1105.6,654.4 1107,660.5 1108,662.6 1109.6,662.6 1111.1,661.6 1112.5,662.6 1114.1,661.6 1115.8,661.6 1117.2,662.6 1118.6,661.6 1119.9,660.5 1121.3,662.6 1122.3,666.7 1123.3,670.7 1124.3,674.8 1125.4,670.7 1126.8,670.7 1128.4,669.7 1130.1,670.7 1131.5,673.8 1132.5,674.8 1133.5,668.7 1134.6,670.7 1136.2,670.7 1137.6,670.7 1139.1,671.8 1140.7,671.8 1141.9,670.7 1143.1,670.7 1144.4,664.6 1145.2,662.6 1146.4,668.7 1147.2,664.6 1148.5,666.7 1149.9,667.7 1150.9,665.6 1151.9,670.7 1152.9,667.7 1154.6,668.7 1156,667.7 1157,669.7 1158.1,674.8 1159.1,683 1160.1,687.1 1161.5,686.1 1163.2,686.1 1163.5,686.3 1163.9,685.9 1165.8,685.9 1167.7,683.9 1169.6,685.9 1171.6,686.8 1173.5,684.9 1175.1,683 1176.4,687.8 1177.8,685.9 1179.3,685.9 1181.2,684.9 1183.2,684.9 1185.1,685.9 1186.6,688.8 1188,686.8 1189.9,685.9 1191.8,684.9 1193.2,683.9 1194.7,686.8 1196.7,687.8 1198.6,688.8 1200.5,687.8 1202.5,687.8 1204.4,688.4 1206.3,689.2 1207.9,690.7 1209.2,684.9 1210.6,687.8 1211.7,696.5 1213.1,704.2 1214.4,710 1215.6,708.1 1216.9,702.3 1218.3,705.2 1219.8,706.1 1221.4,705.2 1222.9,707.1 1224.6,706.1 1226.6,705.8 1228.5,705.2 1230.4,706.1 1232.4,705.8 1234.3,705.2 1236.2,706.1 1238.2,705.2 1240.1,705.8 1242,706.1 1243.9,707.1 1245.9,708.1 1247.8,706.1 1248.8,711 1250.3,715.8 1251.7,718.7 1253.6,717.7 1255.5,714.8 1257.5,716.8 1258.8,715.8 1260.3,717.7 1261.9,715.8 1263.8,714.8 1265.8,713.9 1267.7,711.9 1269,711 1270.4,713.9 1272.3,712.9 1274.2,713.9 1276.2,713.9 1278.1,712.9 1279.6,714.8 1281.2,715.8 1282.5,712.9 1284.5,711.9 1285.8,714.8 1287.4,715.8 1288.9,713.9 1290.3,712.9 1291.6,714.8 1293.2,712.9 1294.7,713.9 1296,711 1297.4,713.9 1298.9,712.9 1300.9,712.9 1302.8,712.9 1304.3,713.9 1305.7,717.7 1307,720.6 1309,721.6 1310.9,722.5 1312.5,723.5 1314,719.6 1315.3,721.6 1317.3,722.5 1318.6,721.6 1320,719.4 1322.5,721.2 1324.4,725.6 1326.2,719.4 1328.1,721.2 1330,715.6 1331.9,720 1333.4,716.9 1335,726.9 1335.9,718.7 1336.6,713.1 1338.1,716.9 1339.7,718.1 1340.6,723.1 1341.9,730 1343.7,731.9 1345.6,733.1 1347.5,731.2 1349.4,731.9 1351.2,727.5 1353.1,728.7 1355,729 1357.5,728.7 1358.4,732.5 1359,737.5 1361.2,736.2 1363.7,738.1 1365.6,741.2 1367.5,735.6 1369.3,738.7 1371.2,738.1 1372.5,740 1374.3,738.7 1376.2,739.3 1377.2,737.5 1378.4,730 1380,730 1381.8,731.9 1383.1,727.5 1384.6,727.2" fill="none" stroke="#5b84d4" stroke-width="3.4" stroke-linejoin="round" stroke-linecap="round"/>
<circle cx="1384.5" cy="244.1" r="3.8" fill="#1d2643"/>
<circle cx="1384.7" cy="727.4" r="4.3" fill="#5b84d4"/>
<text x="118.90" y="180.00" font-size="19.5" fill="#2c3145" textLength="23.05" lengthAdjust="spacingAndGlyphs">$0</text>
<text x="118.90" y="307.90" font-size="19.5" fill="#2c3145" textLength="23.05" lengthAdjust="spacingAndGlyphs">$0</text>
<text x="91.20" y="412.00" font-size="19.5" fill="#2c3145" textLength="50.55" lengthAdjust="spacingAndGlyphs">2e-05</text>
<text x="73.80" y="471.20" font-size="19.5" fill="#2c3145" textLength="68.18" lengthAdjust="spacingAndGlyphs">1.5e-05</text>
<text x="89.90" y="558.00" font-size="19.5" fill="#2c3145" textLength="51.86" lengthAdjust="spacingAndGlyphs">1e-05</text>
<text x="91.10" y="633.00" font-size="19.5" fill="#2c3145" textLength="50.98" lengthAdjust="spacingAndGlyphs">7e-06</text>
<text x="90.50" y="702.80" font-size="19.5" fill="#2c3145" textLength="51.38" lengthAdjust="spacingAndGlyphs">5e-06</text>
<text x="91.40" y="751.70" font-size="19.5" fill="#2c3145" textLength="50.02" lengthAdjust="spacingAndGlyphs">4e-06</text>
<text x="1456.50" y="79.40" font-size="19.5" fill="#2c3145" textLength="73.59" lengthAdjust="spacingAndGlyphs">$50,000</text>
<text x="1456.50" y="195.00" font-size="19.5" fill="#2c3145" textLength="73.59" lengthAdjust="spacingAndGlyphs">$20,000</text>
<text x="1455.90" y="282.20" font-size="19.5" fill="#2c3145" textLength="74.42" lengthAdjust="spacingAndGlyphs">$10,000</text>
<text x="1455.90" y="369.00" font-size="19.5" fill="#2c3145" textLength="63.83" lengthAdjust="spacingAndGlyphs">$5,000</text>
<text x="1456.50" y="452.10" font-size="19.5" fill="#2c3145" textLength="73.59" lengthAdjust="spacingAndGlyphs">$50,000</text>
<text x="1456.50" y="567.10" font-size="19.5" fill="#2c3145" textLength="73.59" lengthAdjust="spacingAndGlyphs">$20,000</text>
<text x="1455.90" y="654.30" font-size="19.5" fill="#2c3145" textLength="74.42" lengthAdjust="spacingAndGlyphs">$10,000</text>
<text x="1456.40" y="740.00" font-size="19.5" fill="#2c3145" textLength="63.62" lengthAdjust="spacingAndGlyphs">$5,000</text>
<text x="155.50" y="793.00" font-size="19.5" fill="#2c3145" textLength="82.51" lengthAdjust="spacingAndGlyphs">Dec 1, 19</text>
<text x="251.00" y="793.00" font-size="19.5" fill="#2c3145" textLength="85.38" lengthAdjust="spacingAndGlyphs">Mar 1, 20</text>
<text x="375.50" y="793.00" font-size="19.5" fill="#2c3145" textLength="80.50" lengthAdjust="spacingAndGlyphs">Jun 1, 20</text>
<text x="495.50" y="793.00" font-size="19.5" fill="#2c3145" textLength="82.52" lengthAdjust="spacingAndGlyphs">Sep 1, 20</text>
<text x="617.40" y="793.00" font-size="19.5" fill="#2c3145" textLength="82.52" lengthAdjust="spacingAndGlyphs">Dec 1, 20</text>
<text x="736.00" y="793.00" font-size="19.5" fill="#2c3145" textLength="85.61" lengthAdjust="spacingAndGlyphs">Mar 1, 21</text>
<text x="860.50" y="793.00" font-size="19.5" fill="#2c3145" textLength="80.50" lengthAdjust="spacingAndGlyphs">Jun 1, 21</text>
<text x="980.50" y="793.00" font-size="19.5" fill="#2c3145" textLength="83.53" lengthAdjust="spacingAndGlyphs">Sep 1, 21</text>
<text x="1102.50" y="793.00" font-size="19.5" fill="#2c3145" textLength="82.51" lengthAdjust="spacingAndGlyphs">Dec 1, 21</text>
<text x="1221.00" y="793.00" font-size="19.5" fill="#2c3145" textLength="85.63" lengthAdjust="spacingAndGlyphs">Mar 1, 22</text>
<text x="1345.50" y="793.00" font-size="19.5" fill="#2c3145" textLength="79.50" lengthAdjust="spacingAndGlyphs">Jun 1, 22</text>
<text x="1379.60" y="232.80" font-size="19.5" fill="#1c2034" textLength="62.81" lengthAdjust="spacingAndGlyphs" stroke="#1c2034" stroke-width="0.45">$0.137</text>
<text x="1356.00" y="716.00" font-size="19.5" fill="#5b84d4" textLength="86.61" lengthAdjust="spacingAndGlyphs">0.000004</text>
<text x="22.50" y="851.00" font-size="19.5" fill="#2c3145" textLength="166.50" lengthAdjust="spacingAndGlyphs" font-style="italic">Source: Glassnode</text>
<text transform="translate(51.2,201.1) rotate(-90)" font-size="19.5" text-anchor="middle" textLength="137.90" lengthAdjust="spacingAndGlyphs" fill="#2c3145">Hash Price USD</text>
<text transform="translate(51.2,573.6) rotate(-90)" font-size="19.5" text-anchor="middle" textLength="136.22" lengthAdjust="spacingAndGlyphs" fill="#2c3145">Hash Price BTC</text></svg>
</body></html>
